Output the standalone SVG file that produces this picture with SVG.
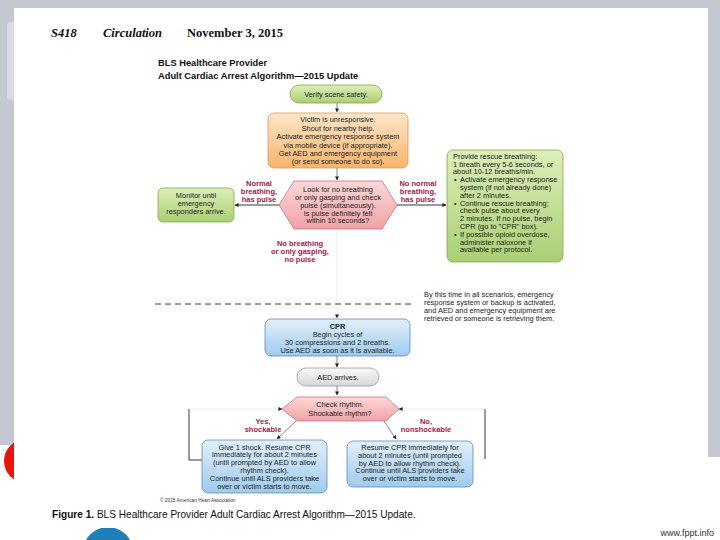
<svg xmlns="http://www.w3.org/2000/svg" width="720" height="540" viewBox="0 0 720 540">
<defs>
<linearGradient id="gGreen" x1="0" y1="0" x2="0" y2="1"><stop offset="0" stop-color="#dcefb8"/><stop offset="1" stop-color="#a9cf73"/></linearGradient>
<linearGradient id="gOrange" x1="0" y1="0" x2="0" y2="1"><stop offset="0" stop-color="#fde6c8"/><stop offset="1" stop-color="#f7b46e"/></linearGradient>
<linearGradient id="gPink" x1="0" y1="0" x2="0" y2="1"><stop offset="0" stop-color="#fcd8d8"/><stop offset="1" stop-color="#f0a2a8"/></linearGradient>
<linearGradient id="gBlue" x1="0" y1="0" x2="0" y2="1"><stop offset="0" stop-color="#e2f0fb"/><stop offset="1" stop-color="#9ecbee"/></linearGradient>
<linearGradient id="gGray" x1="0" y1="0" x2="0" y2="1"><stop offset="0" stop-color="#fafafa"/><stop offset="1" stop-color="#d6d6d6"/></linearGradient>
<marker id="ah" viewBox="0 0 10 10" refX="9" refY="5" markerWidth="4" markerHeight="4" markerUnits="userSpaceOnUse" orient="auto"><path d="M0,0 L10,5 L0,10 z" fill="#222"/></marker>
<style>
.hdr{font-family:"Liberation Serif","Times New Roman",serif;font-size:12.5px;fill:#111}
.ttl{font-family:"Liberation Sans",Arial,sans-serif;font-size:9.3px;font-weight:bold;fill:#111}
.t{font-family:"Liberation Sans",Arial,sans-serif;font-size:7.4px;fill:#222;text-anchor:middle}
.tl{font-family:"Liberation Sans",Arial,sans-serif;font-size:7.4px;fill:#222}
.lab{font-family:"Liberation Sans",Arial,sans-serif;font-size:7.5px;font-weight:bold;fill:#a3174a;text-anchor:middle}
.conn{fill:none;stroke:#333;stroke-width:0.6}
.connd{fill:none;stroke:#222;stroke-width:0.9}
.faint{fill:none;stroke:#d4d4d4;stroke-width:0.5}
.gr{fill:url(#gGreen);stroke:#86a64e;stroke-width:0.8}
.or{fill:url(#gOrange);stroke:#d9975a;stroke-width:0.8}
.pk{fill:url(#gPink);stroke:#c4727c;stroke-width:0.8}
.bl{fill:url(#gBlue);stroke:#5d8cba;stroke-width:0.8}
.gy{fill:url(#gGray);stroke:#9a9a9a;stroke-width:0.8}
</style>
</defs>
<!-- slide background -->
<rect x="0" y="0" width="720" height="540" fill="#c4c9d1"/>
<rect x="0" y="445" width="14" height="95" fill="#ffffff"/>
<rect x="708" y="457" width="12" height="83" fill="#ffffff"/>
<rect x="0" y="528" width="720" height="12" fill="#ffffff"/>
<rect x="7" y="22" width="24" height="78" rx="4" fill="#d9dde3"/>
<circle cx="26" cy="461" r="22" fill="#e8150f"/>
<circle cx="108" cy="552" r="25" fill="#1f7fb9"/>
<rect x="14" y="8" width="694" height="520" fill="#ffffff"/>
<!-- header -->
<text class="hdr" x="51" y="37" font-style="italic" font-weight="bold">S418</text>
<text class="hdr" x="103" y="37" font-style="italic" font-weight="bold">Circulation</text>
<text class="hdr" x="187" y="37" font-weight="bold">November 3, 2015</text>
<text class="ttl" x="158" y="66">BLS Healthcare Provider</text>
<text class="ttl" x="158" y="79">Adult Cardiac Arrest Algorithm—2015 Update</text>

<g id="connectors">
<path class="conn" d="M337,103 L337,112" marker-end="url(#ah)"/>
<path class="conn" d="M337,168 L337,180" marker-end="url(#ah)"/>
<path class="faint" d="M337,229 L337,318" marker-end="url(#ah)"/>
<path class="connd" d="M279,205 L235,205" marker-end="url(#ah)"/>
<path class="connd" d="M397,205 L446,205" marker-end="url(#ah)"/>
<path class="conn" d="M337,356 L337,367" marker-end="url(#ah)"/>
<path class="conn" d="M337,386 L337,395" marker-end="url(#ah)"/>
<path class="conn" d="M296,421 L277,439" marker-end="url(#ah)"/>
<path class="conn" d="M384,421 L396,439" marker-end="url(#ah)"/>
<path class="connd" d="M202,460 L189,460 L189,409"/>
<path class="faint" d="M189,409 L282,409" marker-end="url(#ah)"/>
<path class="connd" d="M485,459 L485,409"/>
<path class="faint" d="M485,409 L399,409" marker-end="url(#ah)"/>
<path d="M155,304 L412,304" fill="none" stroke="#222" stroke-width="0.9" stroke-dasharray="6,4"/>
</g>

<g id="verify">
<rect class="gr" x="290" y="85" width="92" height="18" rx="9"/>
<text class="t" x="336" y="96.5" font-size="6.8">Verify scene safety.</text>
</g>

<g id="unresponsive">
<rect class="or" x="268" y="113" width="140" height="55" rx="6"/>
<text class="t" x="338" y="122">Victim is unresponsive.</text>
<text class="t" x="338" y="130.5" font-size="8">Shout for nearby help.</text>
<text class="t" x="338" y="139">Activate emergency response system</text>
<text class="t" x="338" y="147.5">via mobile device (if appropriate).</text>
<text class="t" x="338" y="156" font-size="7.7">Get AED and emergency equipment</text>
<text class="t" x="338" y="164" font-size="6.8">(or send someone to do so).</text>
</g>

<g id="lookbreathing">
<polygon class="pk" points="279,205 294,181 382,181 397,205 382,229 294,229"/>
<text class="t" x="338" y="192" font-size="7.8">Look for no breathing</text>
<text class="t" x="338" y="200" font-size="7.2">or only gasping and check</text>
<text class="t" x="338" y="208" font-size="7.8">pulse (simultaneously).</text>
<text class="t" x="338" y="215.5" font-size="7">Is pulse definitely felt</text>
<text class="t" x="338" y="223" font-size="7">within 10 seconds?</text>
</g>

<g id="monitor">
<rect class="gr" x="158" y="188" width="76" height="34" rx="5"/>
<text class="t" x="196" y="198" font-size="7.8">Monitor until</text>
<text class="t" x="196" y="206">emergency</text>
<text class="t" x="196" y="214">responders arrive.</text>
</g>

<g id="labels1">
<text class="lab" x="259" y="186">Normal</text>
<text class="lab" x="259" y="194">breathing,</text>
<text class="lab" x="259" y="202">has pulse</text>
<text class="lab" x="418" y="186">No normal</text>
<text class="lab" x="418" y="194">breathing,</text>
<text class="lab" x="418" y="202">has pulse</text>
<text class="lab" x="300" y="245.5" font-size="7.9">No breathing</text>
<text class="lab" x="300" y="253.5" font-size="7.9">or only gasping,</text>
<text class="lab" x="300" y="261.5" font-size="7.9">no pulse</text>
</g>

<g id="rescue">
<rect class="gr" x="447" y="150" width="116" height="112" rx="6"/>
<text class="tl" x="453" y="158.5" font-size="7">Provide rescue breathing:</text>
<text class="tl" x="453" y="166.5" font-size="7.6">1 breath every 5-6 seconds, or</text>
<text class="tl" x="453" y="174.3" font-size="7">about 10-12 breaths/min.</text>
<text class="tl" x="454" y="182.2">•</text>
<text class="tl" x="460" y="182.2">Activate emergency response</text>
<text class="tl" x="460" y="190">system (if not already done)</text>
<text class="tl" x="460" y="197.8">after 2 minutes.</text>
<text class="tl" x="454" y="205.6">•</text>
<text class="tl" x="460" y="205.6" font-size="7.6">Continue rescue breathing;</text>
<text class="tl" x="460" y="213.4">check pulse about every</text>
<text class="tl" x="460" y="221.2">2 minutes. If no pulse, begin</text>
<text class="tl" x="460" y="229">CPR (go to "CPR" box).</text>
<text class="tl" x="454" y="236.8">•</text>
<text class="tl" x="460" y="236.8" font-size="7.6">If possible opioid overdose,</text>
<text class="tl" x="460" y="244.6">administer naloxone if</text>
<text class="tl" x="460" y="252.4">available per protocol.</text>
</g>

<g id="bythistime">
<text class="tl" x="424" y="297">By this time in all scenarios, emergency</text>
<text class="tl" x="424" y="305">response system or backup is activated,</text>
<text class="tl" x="424" y="313">and AED and emergency equipment are</text>
<text class="tl" x="424" y="321">retrieved or someone is retrieving them.</text>
</g>

<g id="cpr">
<rect class="bl" x="265" y="319" width="145" height="37" rx="6"/>
<text class="t" x="337.5" y="328.5" font-size="8.2" font-weight="bold">CPR</text>
<text class="t" x="337.5" y="336.5" font-size="7.6">Begin cycles of</text>
<text class="t" x="337.5" y="344.5" font-size="7.6">30 compressions and 2 breaths.</text>
<text class="t" x="337.5" y="352.5" font-size="7.6">Use AED as soon as it is available.</text>
</g>

<g id="aed">
<rect class="gy" x="297" y="368" width="82" height="18" rx="9"/>
<text class="t" x="338" y="379.5" font-size="7.8">AED arrives.</text>
</g>

<g id="checkrhythm">
<polygon class="pk" points="282,409 297,397 386,397 399,409 386,421 297,421"/>
<text class="t" x="340" y="406.5">Check rhythm.</text>
<text class="t" x="340" y="415.5" font-size="7.6">Shockable rhythm?</text>
</g>

<g id="labels2">
<text class="lab" x="263" y="424">Yes,</text>
<text class="lab" x="263" y="432">shockable</text>
<text class="lab" x="426" y="424">No,</text>
<text class="lab" x="426" y="432">nonshockable</text>
</g>

<g id="shock">
<rect class="bl" x="202" y="440" width="125" height="53" rx="6"/>
<text class="t" x="264.5" y="449.5" font-size="7.6">Give 1 shock. Resume CPR</text>
<text class="t" x="264.5" y="457.3" font-size="7">immediately for about 2 minutes</text>
<text class="t" x="264.5" y="465.1">(until prompted by AED to allow</text>
<text class="t" x="264.5" y="472.9">rhythm check).</text>
<text class="t" x="264.5" y="480.7">Continue until ALS providers take</text>
<text class="t" x="264.5" y="488.5" font-size="7.6">over or victim starts to move.</text>
</g>

<g id="noshock">
<rect class="bl" x="347" y="441" width="126" height="46" rx="6"/>
<text class="t" x="410" y="450" font-size="7">Resume CPR immediately for</text>
<text class="t" x="410" y="457.8" font-size="7.6">about 2 minutes (until prompted</text>
<text class="t" x="410" y="465.6">by AED to allow rhythm check).</text>
<text class="t" x="410" y="473.4">Continue until ALS providers take</text>
<text class="t" x="410" y="481.2" font-size="7.6">over or victim starts to move.</text>
</g>

<text x="160" y="502" font-family="'Liberation Sans',Arial,sans-serif" font-size="4.8" fill="#333">© 2015 American Heart Association</text>
<text x="52" y="518" font-family="'Liberation Sans',Arial,sans-serif" font-size="10.1" fill="#111"><tspan font-weight="bold">Figure 1.</tspan> BLS Healthcare Provider Adult Cardiac Arrest Algorithm—2015 Update.</text>
<text x="714" y="536" text-anchor="end" font-family="'Liberation Sans',Arial,sans-serif" font-size="9" fill="#333">www.fppt.info</text>
</svg>
